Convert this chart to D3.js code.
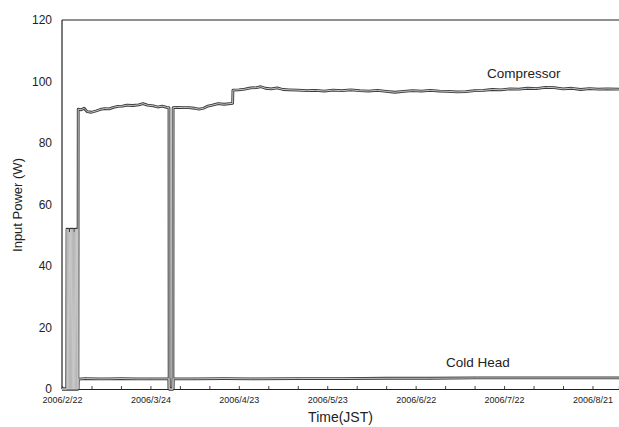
<!DOCTYPE html>
<html>
<head>
<meta charset="utf-8">
<script src="https://cdn.jsdelivr.net/npm/d3@7"></script>
<style>
  body { margin: 0; background: #fff; }
  svg text { font-family: "Liberation Sans", Arial, sans-serif; fill: #222; }
  .axis-line { stroke: #222; stroke-width: 1.2; fill: none; }
</style>
</head>
<body>
<svg id="chart" width="619" height="427"></svg>
<script>
// days counted from 2006/2/22 00:00 JST
var startDate = new Date(2006, 1, 22);

var compDays = [0, 1.6, 1.7, 1.9, 2.1, 2.3, 2.5, 2.7, 2.9, 3.1, 3.3, 3.5, 3.7, 3.9, 4.1, 4.3, 4.5, 4.7, 4.9, 5.1, 5.3, 5.4,
  5.5, 6.5, 7.5, 8.5, 10, 11.5, 13, 14.5, 16, 17.5, 19, 20.5, 22, 24, 26, 27.5, 29, 31, 32.5, 34, 35.5, 36.3,
  36.35, 37.65, 37.7, 39, 41, 43, 45, 46.5, 48, 49.5, 51, 53, 55, 57.9,
  58, 60, 62, 64, 66, 67.5, 69, 71, 73, 75, 77, 80, 83, 86, 89, 92, 95, 98, 101, 104, 107, 110, 113, 116,
  119, 122, 125, 128, 131, 134, 137, 140, 143, 146, 149, 152, 155, 158, 161, 164, 167, 170, 173, 176, 179,
  182, 185, 189];
var compWatts = [0, 0, 52, 0, 52, 0, 51, 0, 52, 0, 52, 0, 52, 0, 51, 0, 52, 0, 52, 0, 52, 0,
  91.0, 90.8, 91.3, 90.2, 90.0, 90.4, 90.9, 91.2, 91.1, 91.6, 91.9, 92.0, 92.3, 92.2, 92.4, 92.8, 92.3, 92.1, 91.7, 92.0, 91.6, 91.5,
  0, 0, 91.5, 91.6, 91.5, 91.5, 91.3, 91.0, 91.3, 92.0, 92.3, 92.8, 92.6, 92.9,
  97.2, 97.3, 97.5, 97.9, 98.0, 98.3, 97.8, 97.6, 97.9, 97.4, 97.3, 97.2, 97.0, 97.1, 96.9, 97.2, 97.0, 97.3, 97.0, 96.9, 97.1, 96.8, 96.5, 96.8,
  97.0, 96.9, 97.1, 96.9, 96.8, 96.6, 96.7, 97.0, 97.1, 97.4, 97.3, 97.6, 97.5, 97.8, 97.7, 98.1, 98.0, 97.6, 97.8, 97.4, 97.7,
  97.5, 97.6, 97.5];

var coldDays = [0, 5.4, 5.5, 8, 12, 16, 20, 25, 30, 36.3, 36.35, 37.65, 37.7, 45, 55, 65, 80, 95, 110, 125, 140, 155, 170, 189];
var coldWatts = [0, 0, 3.2, 3.4, 3.3, 3.3, 3.4, 3.3, 3.3, 3.3, 0, 0, 3.3, 3.3, 3.4, 3.3, 3.4, 3.4, 3.5, 3.5, 3.6, 3.6, 3.6, 3.6];

var tickDays = [0, 30, 60, 90, 120, 150, 180];
var minorDays = [10, 20, 40, 50, 70, 80, 100, 110, 130, 140, 160, 170];
var yTicks = [0, 20, 40, 60, 80, 100, 120];

var seriesLabels = [
  { name: 'Compressor', day: 144.2, value: 101.1 },
  { name: 'Cold Head', day: 130.3, value: 7.0 }
];

function toDate(d) { return new Date(startDate.getTime() + d * 864e5); }
function fmt(d) { return d.getFullYear() + '/' + (d.getMonth() + 1) + '/' + d.getDate(); }

var svg = d3.select('#chart');

var x = d3.scaleTime()
  .domain([toDate(0), toDate(189)])
  .range([62, 619]);
var y = d3.scaleLinear()
  .domain([0, 120])
  .range([389, 20]);

//frame: left axis, top line
svg.append('line').attr('class', 'axis-line')
  .attr('x1', x.range()[0]).attr('x2', x.range()[0])
  .attr('y1', y(0)).attr('y2', y(120));
svg.append('line').attr('class', 'axis-line')
  .attr('x1', x.range()[0]).attr('x2', x.range()[1])
  .attr('y1', y(120)).attr('y2', y(120));

//y axis labels
svg.append('g')
  .attr('transform', 'translate(' + x.range()[0] + ',0)')
  .call(d3.axisLeft(y).tickValues(yTicks).tickSize(0).tickPadding(10))
  .call(function(g) {
    g.select('.domain').remove();
    g.selectAll('text').style('font-size', '12px').attr('fill', '#222');
  });

//x axis: minor ticks then labelled ticks
svg.append('g')
  .attr('transform', 'translate(0,' + y(0) + ')')
  .call(d3.axisBottom(x).tickValues(minorDays.map(toDate)).tickSize(-3).tickFormat(''))
  .call(function(g) {
    g.select('.domain').attr('stroke', '#222').attr('stroke-width', 1.2);
    g.selectAll('.tick line').attr('stroke', '#444');
  });
svg.append('g')
  .attr('transform', 'translate(0,' + y(0) + ')')
  .call(d3.axisBottom(x).tickValues(tickDays.map(toDate)).tickSize(-3).tickPadding(8).tickFormat(fmt))
  .call(function(g) {
    g.select('.domain').remove();
    g.selectAll('.tick line').attr('stroke', '#444');
    g.selectAll('text').style('font-size', '9px').attr('fill', '#222');
  });

//series, drawn as a dark edged grey line like the print
var line = d3.line()
  .x(function(d) { return x(toDate(d[0])); })
  .y(function(d) { return y(d[1]); });

var comp = d3.zip(compDays, compWatts);
var cold = d3.zip(coldDays, coldWatts);

[cold, comp].forEach(function(data) {
  svg.append('path').datum(data)
    .attr('d', line)
    .attr('fill', 'none')
    .attr('stroke', '#3a3a3a')
    .attr('stroke-width', 2.8)
    .attr('stroke-linejoin', 'round');
});
[cold, comp].forEach(function(data) {
  svg.append('path').datum(data)
    .attr('d', line)
    .attr('fill', 'none')
    .attr('stroke', '#c8c8c8')
    .attr('stroke-width', 1)
    .attr('stroke-linejoin', 'round');
});

//series names
svg.selectAll('.series-name')
  .data(seriesLabels)
  .enter().append('text')
  .attr('class', 'series-name')
  .attr('x', function(d) { return x(toDate(d.day)); })
  .attr('y', function(d) { return y(d.value); })
  .style('font-size', '13.5px')
  .text(function(d) { return d.name; });

//axis titles
svg.append('text')
  .attr('x', (x.range()[0] + x.range()[1]) / 2)
  .attr('y', 422)
  .attr('text-anchor', 'middle')
  .style('font-size', '14px')
  .text('Time(JST)');

svg.append('text')
  .attr('transform', 'translate(22,205) rotate(-90)')
  .attr('text-anchor', 'middle')
  .style('font-size', '13px')
  .text('Input Power (W)');
</script>
</body>
</html>
